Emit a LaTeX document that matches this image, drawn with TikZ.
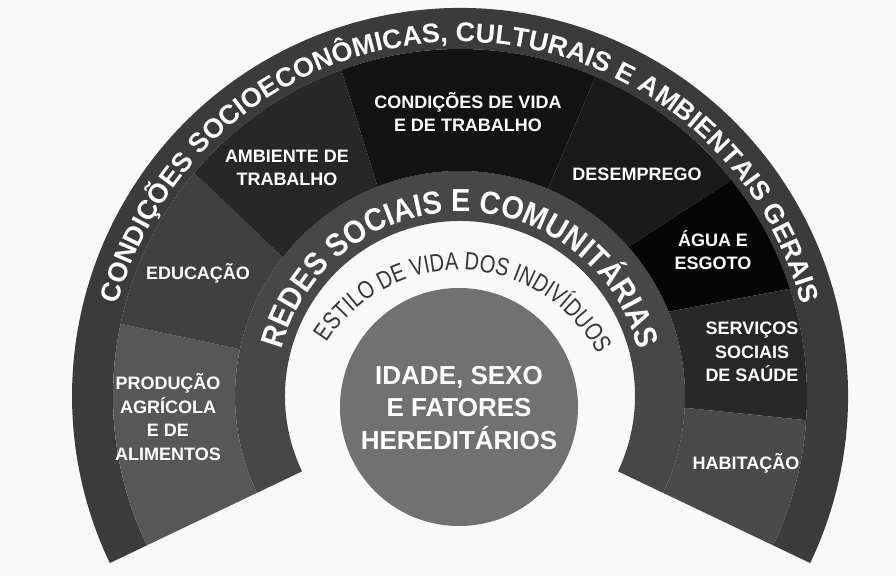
\documentclass[tikz,border=0pt]{standalone}
\usepackage{fontspec}
\setmainfont{Liberation Sans}
\newfontfamily\narrowfont[FakeStretch = 0.8]{Liberation Sans}
\newfontfamily\redesfont[FakeStretch = 0.9]{Liberation Sans}
\usetikzlibrary{decorations.text}
\definecolor{backcolor}{HTML}{f9f9f9}
\definecolor{outercolor}{HTML}{3b3b3b}
\definecolor{redescolor}{HTML}{474747}
\definecolor{sectorcolor1}{HTML}{575757}
\definecolor{sectorcolor2}{HTML}{404040}
\definecolor{sectorcolor3}{HTML}{272727}
\definecolor{sectorcolor4}{HTML}{131313}
\definecolor{sectorcolor5}{HTML}{1a1a1a}
\definecolor{sectorcolor6}{HTML}{050505}
\definecolor{sectorcolor7}{HTML}{282828}
\definecolor{sectorcolor8}{HTML}{4a4a4a}
\definecolor{circlecolor}{HTML}{717171}
\definecolor{estilocolor}{HTML}{363636}

\begin{document}
\begin{tikzpicture}[x = 1pt, y = 1pt,
        sectortext/.style = {text = white, align = center, font = \fontsize{18}{23.5}\selectfont\bfseries},
        arctext/.style = {decorate, decoration = {text along path, text align = center, text color = #1}}]
        \useasboundingbox (0, 0) rectangle (896, 576);
        \fill [backcolor] (0, 0) rectangle (896, 576);

        % Rings
        \begin{scope}[shift = {(460, 180)}]
        \fill [outercolor] (-25.5:388pt) arc [start angle = -25.5, end angle = 205.5, radius = 388pt] -- (205.5:347pt) arc [start angle = 205.5, end angle = -25.5, radius = 347pt] -- cycle;
        \fill [redescolor] (-25.5:225pt) arc [start angle = -25.5, end angle = 205.5, radius = 225pt] -- (205.5:175pt) arc [start angle = 205.5, end angle = -25.5, radius = 175pt] -- cycle;

        % Sectors
        \fill [sectorcolor1] (205.5:347pt) arc [start angle = 205.5, end angle = 168, radius = 347pt] -- (168:225pt) arc [start angle = 168, end angle = 205.5, radius = 225pt] -- cycle;
        \fill [sectorcolor2] (168:347pt) arc [start angle = 168, end angle = 140, radius = 347pt] -- (142:225pt) arc [start angle = 142, end angle = 168, radius = 225pt] -- cycle;
        \fill [sectorcolor3] (140:347pt) arc [start angle = 140, end angle = 110, radius = 347pt] -- (111.5:225pt) arc [start angle = 111.5, end angle = 142, radius = 225pt] -- cycle;
        \fill [sectorcolor4] (110:347pt) arc [start angle = 110, end angle = 67, radius = 347pt] -- (67:225pt) arc [start angle = 67, end angle = 111.5, radius = 225pt] -- cycle;
        \fill [sectorcolor5] (67:347pt) arc [start angle = 67, end angle = 38.5, radius = 347pt] -- (41.5:225pt) arc [start angle = 41.5, end angle = 67, radius = 225pt] -- cycle;
        \fill [sectorcolor6] (38.5:347pt) arc [start angle = 38.5, end angle = 18, radius = 347pt] -- (22:225pt) arc [start angle = 22, end angle = 41.5, radius = 225pt] -- cycle;
        \fill [sectorcolor7] (18:347pt) arc [start angle = 18, end angle = -4, radius = 347pt] -- (-3:225pt) arc [start angle = -3, end angle = 22, radius = 225pt] -- cycle;
        \fill [sectorcolor8] (-4:347pt) arc [start angle = -4, end angle = -25.5, radius = 347pt] -- (-25.5:225pt) arc [start angle = -25.5, end angle = -3, radius = 225pt] -- cycle;

        % Texts along the rings
        \path [arctext = white, decoration = {text = {|\fontsize{27}{27}\selectfont\bfseries|CONDIÇÕES SOCIOECONÔMICAS, CULTURAIS E AMBIENTAIS GERAIS}}] (200:354pt) arc [start angle = 200, end angle = -20, radius = 354pt];
        \path [arctext = white, decoration = {text = {|\redesfont\fontsize{32}{32}\selectfont\bfseries|REDES SOCIAIS E COMUNITÁRIAS}}] (200:184pt) arc [start angle = 200, end angle = -20, radius = 184pt];
        \end{scope}

        \begin{scope}[shift = {(459, 150)}]
        \path [arctext = estilocolor, decoration = {text = {|\narrowfont\fontsize{25}{25}\selectfont|ESTILO DE VIDA DOS INDIVÍDUOS}}] (172.5:156pt) arc [start angle = 172.5, end angle = 2.5, radius = 156pt];
        \end{scope}

        % Centre
        \fill [circlecolor] (459, 169) circle [radius = 119pt];
        \node [text = white, align = center, font = \fontsize{26}{32.5}\selectfont\bfseries] (idade) at (459, 168) {IDADE, SEXO\\E FATORES\\HEREDITÁRIOS};

        % Sector labels
        \node [sectortext] (producao) at (168, 159) {PRODUÇÃO\\AGRÍCOLA\\E DE\\ALIMENTOS};
        \node [sectortext] (educacao) at (198, 303) {EDUCAÇÃO};
        \node [sectortext] (ambiente) at (287, 408) {AMBIENTE DE\\TRABALHO};
        \node [sectortext] (condicoes) at (468, 464) {CONDIÇÕES DE VIDA\\E DE TRABALHO};
        \node [sectortext] (desemprego) at (637, 402) {DESEMPREGO};
        \node [sectortext] (agua) at (713, 326) {ÁGUA E\\ESGOTO};
        \node [sectortext] (servicos) at (752, 224) {SERVIÇOS\\SOCIAIS\\DE SAÚDE};
        \node [sectortext] (habitacao) at (746, 113) {HABITAÇÃO};

    \end{tikzpicture}
\end{document}
